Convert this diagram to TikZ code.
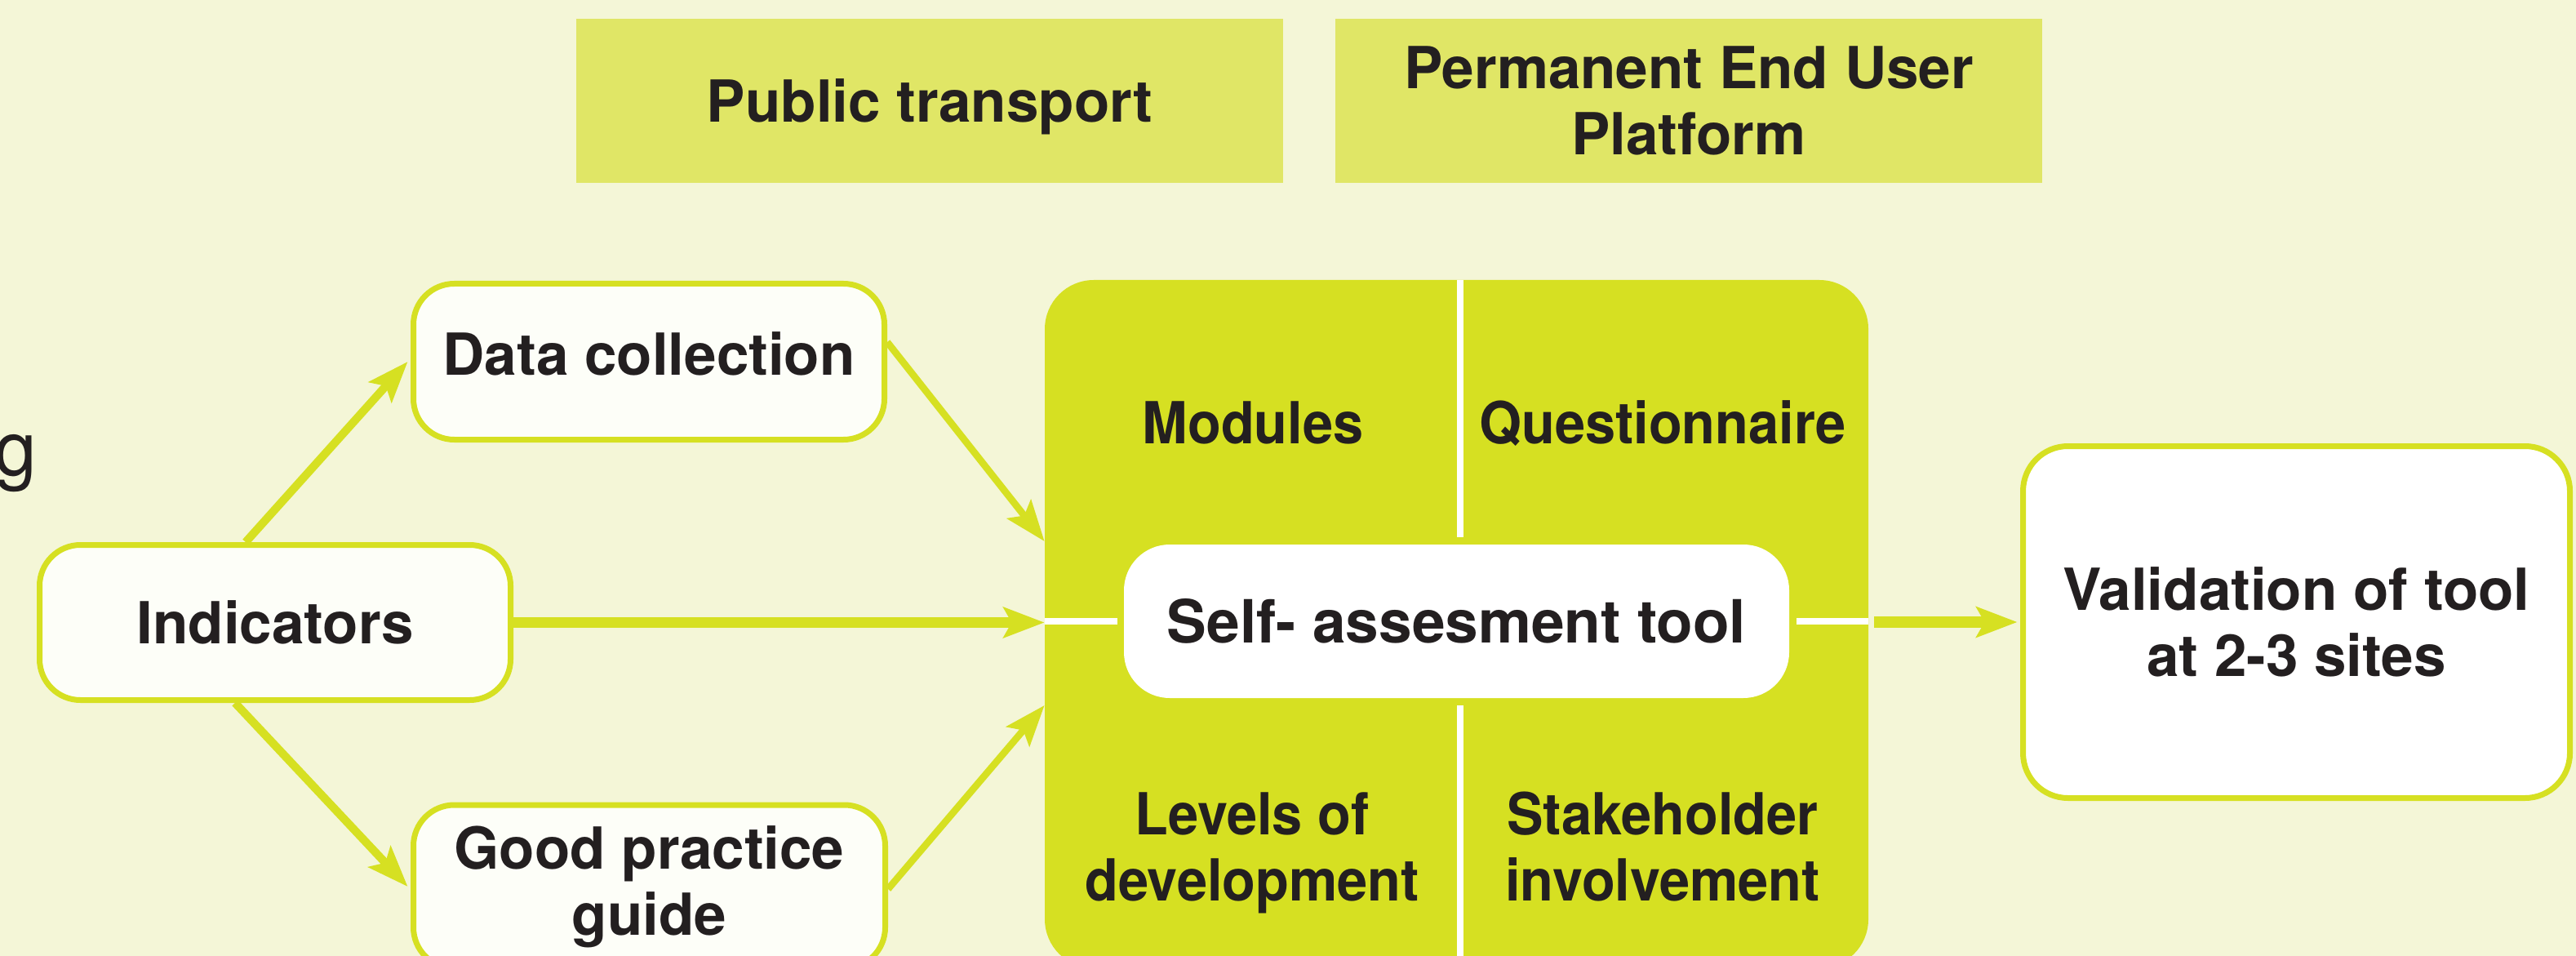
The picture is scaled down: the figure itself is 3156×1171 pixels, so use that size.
\documentclass[tikz,border=0pt]{standalone}
\usepackage{fontspec}
\setmainfont{TeX Gyre Heros}
\newfontfamily\condfont[FakeStretch=0.94]{TeX Gyre Heros}
\usetikzlibrary{arrows.meta,calc}
\definecolor{bg}{HTML}{F4F6D7}
\definecolor{lime}{HTML}{D6E022}
\definecolor{pale}{HTML}{E0E666}
\definecolor{ink}{HTML}{231F20}
\definecolor{boxwhite}{HTML}{FDFEF8}
\begin{document}
\begin{tikzpicture}[x=0.5pt,y=-0.5pt,
  lbl/.style={font=\bfseries\fontsize{35.5}{40.5}\selectfont, text=ink, align=center, inner sep=0pt},
  condlbl/.style={lbl, font=\condfont\bfseries\fontsize{35.5}{40.5}\selectfont},
  rbox/.style={lbl, draw=lime, line width=3.5pt, fill=boxwhite, rounded corners=25pt},
  topbox/.style={lbl, fill=pale, minimum width=433pt, minimum height=100.5pt},
  arr/.style={draw=lime, line width=6.75pt, -{Stealth[length=25pt,width=18.5pt,inset=5pt]}},
  diagarr/.style={arr, line width=5pt},
  thinarr/.style={arr, line width=4.25pt},
  divider/.style={draw=white, line width=4.25pt}
]
\useasboundingbox (0,0) rectangle (3156,1171);
\clip (0,0) rectangle (3156,1171);
\fill[bg] (0,0) rectangle (3156,1171);

% partial word at the left edge
\node[font=\fontsize{46.5}{50}\selectfont, text=ink, inner sep=0pt, anchor=base east] (gtxt) at (46,582) {g};

% top boxes
\node[topbox, text depth=0pt] (pt) at (1139,123.5) {Public transport};
\node[topbox] (peup) at (2069,123.5) {Permanent End User\\Platform};

% left boxes
\node[rbox, minimum width=288.5pt, minimum height=95pt] (ind) at (337,762.5) {Indicators};
\node[rbox, minimum width=288.5pt, minimum height=95.5pt, text depth=10pt] (dc) at (795,443) {Data collection};
\node[rbox, minimum width=289pt, minimum height=100pt] (gp) at (795.5,1086) {Good practice\\guide};

% central block
\node[fill=lime, minimum width=504.5pt, minimum height=421.5pt, rounded corners=30pt, inner sep=0pt] (big) at (1784.5,764.5) {};
\node[lbl, font=\bfseries\fontsize{36.5}{40.5}\selectfont, fill=white, minimum width=407.5pt, minimum height=94pt, rounded corners=28pt] (self) at (1784.5,761) {Self- assesment tool};
\draw[divider] (big.west |- self.west) -- ($(self.west)+(-8,0)$);
\draw[divider] ($(self.east)+(9,0)$) -- (big.east |- self.east);
\draw[divider] (1789,343) -- (1789,658);
\draw[divider] (1789,864) -- (1789,1200);
\node[condlbl, anchor=base] (mod) at (1535,543) {Modules};
\node[condlbl, anchor=base] (que) at (2037,543) {Questionnaire};
\node[condlbl, anchor=base] (lev) at (1534,1103) {Levels of\\development};
\node[condlbl, anchor=base] (stk) at (2037,1103) {Stakeholder\\involvement};

% right box
\node[rbox, fill=white, minimum width=335pt, minimum height=215.5pt, rounded corners=27.5pt] (val) at (2813.5,762) {Validation of tool\\at 2-3 sites};

% connectors
\draw[diagarr] (ind.north -| 301,0) -- ($(dc.west)+(-3.5,0)$);
\draw[diagarr] (ind.south -| 288,0) -- ($(gp.west)+(-3.5,0)$);
\draw[arr] (ind.east) -- (ind.east -| big.west);
\draw[thinarr] (dc.east |- 0,419) -- (big.west |- 0,663);
\draw[thinarr] (gp.east |- 0,1089) -- (big.west |- 0,864);
\draw[arr] ($(big.east |- val.west)+(7,0)$) -- ($(val.west)+(-3.5,0)$);
\end{tikzpicture}
\end{document}
